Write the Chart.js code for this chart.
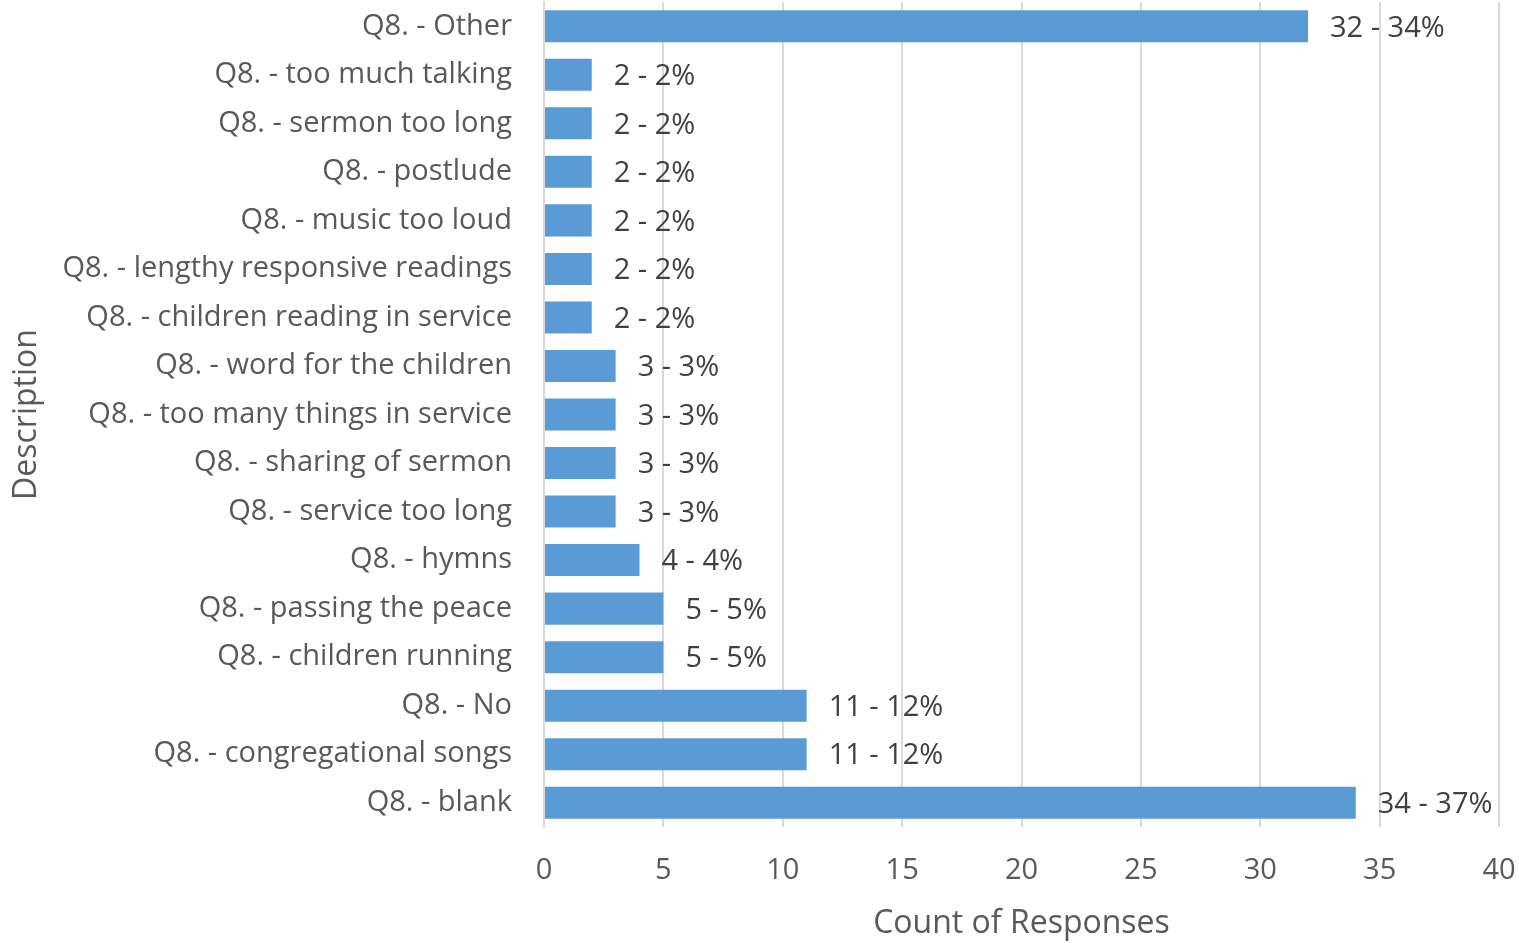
<!DOCTYPE html>
<html>
<head>
<meta charset="utf-8">
<script src="https://cdn.jsdelivr.net/npm/chart.js@4/dist/chart.umd.min.js"></script>
<style>
  html, body { margin: 0; padding: 0; background: #fff; }
  #wrap { width: 1519px; height: 943px; }
</style>
</head>
<body>
<div id="wrap"><canvas id="chart" width="1519" height="943"></canvas></div>
<script>
const categories = [
    'Q8. - Other',
    'Q8. - too much talking',
    'Q8. - sermon too long',
    'Q8. - postlude',
    'Q8. - music too loud',
    'Q8. - lengthy responsive readings',
    'Q8. - children reading in service',
    'Q8. - word for the children',
    'Q8. - too many things in service',
    'Q8. - sharing of sermon',
    'Q8. - service too long',
    'Q8. - hymns',
    'Q8. - passing the peace',
    'Q8. - children running',
    'Q8. - No',
    'Q8. - congregational songs',
    'Q8. - blank'
];
const counts = [32, 2, 2, 2, 2, 2, 2, 3, 3, 3, 3, 4, 5, 5, 11, 11, 34];
const percents = [34, 2, 2, 2, 2, 2, 2, 3, 3, 3, 3, 4, 5, 5, 12, 12, 37];
const xTicks = [0, 5, 10, 15, 20, 25, 30, 35, 40];

const textColor = '#595959';
const fontFamily = '"Open Sans", sans-serif';
const fontSize = 29;
const titleSize = 32;

// writes "count - pct%" just past each bar end
const barLabels = {
    id: 'barLabels',
    afterDatasetsDraw(chart) {
        const ctx = chart.ctx;
        const meta = chart.getDatasetMeta(0);
        ctx.save();
        ctx.font = fontSize + 'px ' + fontFamily;
        ctx.fillStyle = '#404040';
        ctx.textAlign = 'left';
        ctx.textBaseline = 'middle';
        meta.data.forEach((bar, i) => {
            ctx.fillText(counts[i] + ' - ' + percents[i] + '%', bar.x + 22, bar.y + 2);
        });
        ctx.restore();
    }
};

const ctx = document.getElementById('chart').getContext('2d');
const chart = new Chart(ctx, {
    type: 'bar',
    data: {
        labels: categories,
        datasets: [{
            label: 'Count of Responses',
            data: counts,
            backgroundColor: '#5B9BD5',
            borderWidth: 0,
            barPercentage: 0.66,
            categoryPercentage: 1
        }]
    },
    options: {
        indexAxis: 'y',
        responsive: false,
        animation: false,
        layout: { padding: { top: 2, right: 20, bottom: 0, left: 8 } },
        plugins: {
            legend: { display: false },
            tooltip: { enabled: false }
        },
        scales: {
            x: {
                min: 0,
                max: 40,
                afterBuildTicks(scale) {
                    scale.ticks = xTicks.map(v => ({ value: v }));
                },
                grid: { color: '#D9D9D9', lineWidth: 2, drawTicks: false },
                border: { display: false },
                ticks: {
                    color: textColor,
                    padding: 26,
                    font: { family: fontFamily, size: fontSize }
                },
                title: {
                    display: true,
                    text: 'Count of Responses',
                    color: textColor,
                    padding: { top: 10, bottom: 0 },
                    font: { family: fontFamily, size: titleSize }
                },
                afterFit(scale) {
                    scale.height = 116;
                    scale.paddingLeft = 0;
                    scale.paddingRight = 0;
                }
            },
            y: {
                grid: { display: false, drawTicks: false },
                border: { display: true, color: '#D9D9D9', width: 2 },
                ticks: {
                    color: textColor,
                    padding: 32,
                    font: { family: fontFamily, size: fontSize }
                },
                title: {
                    display: true,
                    text: 'Description',
                    color: textColor,
                    padding: 0,
                    font: { family: fontFamily, size: titleSize }
                },
                afterFit(scale) {
                    scale.width = 536;
                    scale.paddingTop = 0;
                    scale.paddingBottom = 0;
                }
            }
        }
    },
    plugins: [barLabels]
});
</script>
</body>
</html>
